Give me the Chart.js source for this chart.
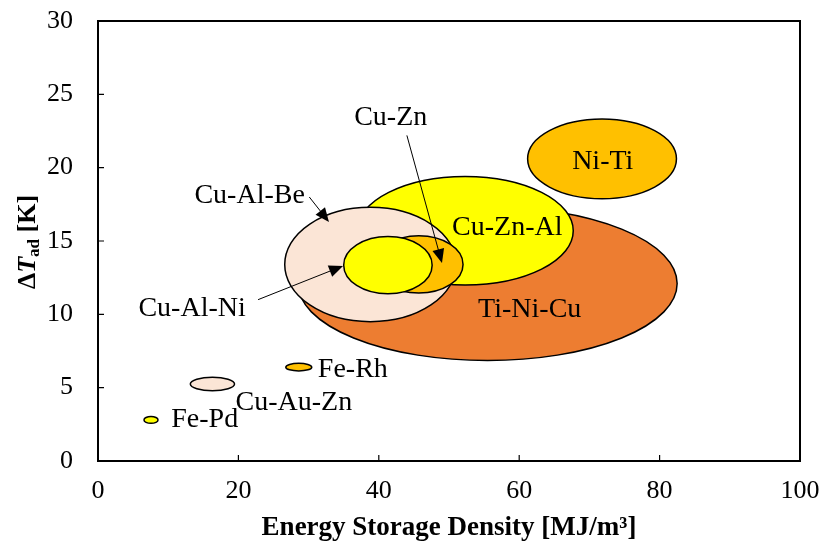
<!DOCTYPE html>
<html>
<head>
<meta charset="utf-8">
<script src="https://cdn.jsdelivr.net/npm/chart.js@4"></script>
<style>
  html, body { margin: 0; padding: 0; background: #fff; }
  #wrap { width: 823px; height: 548px; }
</style>
</head>
<body>
<div id="wrap"><canvas id="ellipseChart"></canvas></div>
<script>
// alloy families, drawn back to front
var alloys = ["Ti-Ni-Cu", "Cu-Zn-Al", "Ni-Ti", "Cu-Al-Be", "Cu-Zn", "Cu-Al-Ni", "Fe-Rh", "Cu-Au-Zn", "Fe-Pd"];
// centre of each range (MJ/m3, K)
var energyDensity = [55.5, 52.3, 71.8, 38.8, 45.7, 41.3, 28.6, 16.3, 7.55];
var deltaT = [12.1, 15.7, 20.6, 13.4, 13.4, 13.35, 6.4, 5.25, 2.8];
// half width / half height of each range
var energySpread = [27.0, 15.4, 10.6, 12.2, 6.3, 6.3, 1.85, 3.15, 1.0];
var deltaTSpread = [5.25, 3.7, 2.72, 3.9, 1.95, 1.95, 0.26, 0.46, 0.23];

var xTicks = [0, 20, 40, 60, 80, 100];
var yTicks = [0, 5, 10, 15, 20, 25, 30];

// label positions (data units) and arrows
var labelX = [61.5, 58.3, 71.9, 21.6, 41.7, 13.4, 36.3, 27.9, 15.2];
var labelY = [10.3, 15.9, 20.4, 18.1, 23.4, 10.4, 6.2, 4.0, 2.8];
var arrowFrom = [[30.1, 18.0], [44.0, 22.2], [22.8, 11.0]];
var arrowTo = [[32.9, 16.3], [49.0, 13.5], [34.9, 13.3]];

var fillColors = ["#ED7D31", "#FFFF00", "#FFC000", "#FBE5D6", "#FFC000", "#FFFF00", "#FFC000", "#FBE5D6", "#FFFF00"];
var serif = "'Liberation Serif', 'Times New Roman', serif";

var points = alloys.map(function (n, i) {
    return {x: energyDensity[i], y: deltaT[i]};
});

function drawArrow(ctx, x1, y1, x2, y2) {
    var a = Math.atan2(y2 - y1, x2 - x1);
    var len = 14, w = 6;
    ctx.beginPath();
    ctx.moveTo(x1, y1);
    ctx.lineTo(x2 - Math.cos(a) * len * 0.8, y2 - Math.sin(a) * len * 0.8);
    ctx.stroke();
    ctx.beginPath();
    ctx.moveTo(x2, y2);
    ctx.lineTo(x2 - Math.cos(a) * len - Math.sin(a) * w, y2 - Math.sin(a) * len + Math.cos(a) * w);
    ctx.lineTo(x2 - Math.cos(a) * len + Math.sin(a) * w, y2 - Math.sin(a) * len - Math.cos(a) * w);
    ctx.closePath();
    ctx.fill();
}

var ellipsePlugin = {
    id: "ellipses",
    beforeDatasetsDraw: function (chart) {
        var ctx = chart.ctx, xs = chart.scales.x, ys = chart.scales.y;
        ctx.save();
        for (var i = 0; i < alloys.length; i++) {
            var cx = xs.getPixelForValue(energyDensity[i]);
            var cy = ys.getPixelForValue(deltaT[i]);
            var rx = xs.getPixelForValue(energyDensity[i] + energySpread[i]) - cx;
            var ry = cy - ys.getPixelForValue(deltaT[i] + deltaTSpread[i]);
            ctx.beginPath();
            ctx.ellipse(cx, cy, rx, ry, 0, 0, 2 * Math.PI);
            ctx.fillStyle = fillColors[i];
            ctx.fill();
            ctx.lineWidth = 1.5;
            ctx.strokeStyle = "#000";
            ctx.stroke();
        }
        ctx.restore();
    },
    afterDraw: function (chart) {
        var ctx = chart.ctx, xs = chart.scales.x, ys = chart.scales.y;
        var a = chart.chartArea;
        ctx.save();
        // labels
        ctx.fillStyle = "#000";
        ctx.font = "28px " + serif;
        ctx.textAlign = "center";
        ctx.textBaseline = "middle";
        for (var i = 0; i < alloys.length; i++) {
            ctx.fillText(alloys[i], xs.getPixelForValue(labelX[i]), ys.getPixelForValue(labelY[i]));
        }
        // arrows
        ctx.strokeStyle = "#000";
        ctx.lineWidth = 1;
        for (var k = 0; k < arrowFrom.length; k++) {
            drawArrow(ctx,
                xs.getPixelForValue(arrowFrom[k][0]), ys.getPixelForValue(arrowFrom[k][1]),
                xs.getPixelForValue(arrowTo[k][0]), ys.getPixelForValue(arrowTo[k][1]));
        }
        // frame + inward ticks
        ctx.lineWidth = 2;
        ctx.strokeRect(a.left, a.top, a.right - a.left, a.bottom - a.top);
        ctx.lineWidth = 1.2;
        ctx.beginPath();
        xTicks.slice(1, -1).forEach(function (v) {
            var px = xs.getPixelForValue(v);
            ctx.moveTo(px, a.bottom);
            ctx.lineTo(px, a.bottom - 6);
        });
        yTicks.slice(1, -1).forEach(function (v) {
            var py = ys.getPixelForValue(v);
            ctx.moveTo(a.left, py);
            ctx.lineTo(a.left + 6, py);
        });
        ctx.stroke();
        // y title: ΔT_ad [K]
        ctx.translate(26, 242);
        ctx.rotate(-Math.PI / 2);
        ctx.textAlign = "left";
        ctx.textBaseline = "alphabetic";
        var parts = [
            {t: "\u0394", f: "bold 26px " + serif, dy: 0},
            {t: "T", f: "italic bold 26px " + serif, dy: 0},
            {t: "ad", f: "bold 17px " + serif, dy: 4},
            {t: " [K]", f: "bold 26px " + serif, dy: 0}
        ];
        var total = 0;
        parts.forEach(function (p) { ctx.font = p.f; p.w = ctx.measureText(p.t).width; total += p.w; });
        var x = -total / 2;
        parts.forEach(function (p) {
            ctx.font = p.f;
            ctx.fillText(p.t, x, 9 + p.dy);
            x += p.w;
        });
        ctx.restore();
    }
};

var ctx = document.getElementById("ellipseChart").getContext("2d");
var myChart = new Chart(ctx, {
    type: "scatter",
    data: {
        datasets: [
            {
                label: "Alloys",
                data: points,
                pointRadius: 0,
                pointHoverRadius: 0
            }
        ]
    },
    options: {
        responsive: true,
        maintainAspectRatio: false,
        animation: false,
        layout: { padding: { top: 21, right: 23, left: 0, bottom: 0 } },
        plugins: { legend: { display: false }, tooltip: { enabled: false } },
        scales: {
            x: {
                type: "linear",
                min: 0,
                max: 100,
                afterBuildTicks: function (s) { s.ticks = xTicks.map(function (v) { return {value: v}; }); },
                afterFit: function (s) { s.height = 87; s.paddingLeft = 0; s.paddingRight = 0; },
                grid: { display: false },
                border: { display: false },
                ticks: { color: "#000", padding: 7, maxRotation: 0, font: { family: serif, size: 26 } },
                title: {
                    display: true,
                    text: "Energy Storage Density [MJ/m\u00b3]",
                    color: "#000",
                    padding: { top: 0, bottom: 4 },
                    font: { family: serif, size: 27, weight: "bold" }
                }
            },
            y: {
                type: "linear",
                min: 0,
                max: 30,
                afterBuildTicks: function (s) { s.ticks = yTicks.map(function (v) { return {value: v}; }); },
                afterFit: function (s) { s.width = 98; s.paddingTop = 0; s.paddingBottom = 0; },
                grid: { display: false },
                border: { display: false },
                ticks: { color: "#000", padding: 17, font: { family: serif, size: 26 } }
            }
        }
    },
    plugins: [ellipsePlugin]
});
</script>
</body>
</html>
